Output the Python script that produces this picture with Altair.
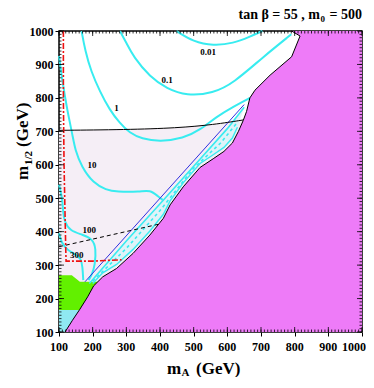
import altair as alt
import pandas as pd

# ---------------- data (GeV) ----------------
# excluded (charged LSP) boundary, bottom -> top
boundary_x = [118, 140, 162, 185, 203, 230, 271, 320, 370, 410, 430, 469, 519, 558, 590, 615, 633, 647, 657, 667, 682, 727, 791, 816, 791]
boundary_y = [100, 135, 168, 205, 238, 265, 290, 335, 390, 440, 480, 534, 592, 618, 640, 665, 700, 732, 759, 800, 823, 868, 923, 985, 1000]

# top edge of the shaded (lavender) region = black solid line
black_x = [100, 300, 450, 560, 647]
black_y = [703, 705, 710, 720, 734]

# green region
green_x = [100, 165, 215, 162, 138, 100]
green_y = [166, 166, 250, 250, 270, 270]

# cyan hatched region at lower left
hatch_x = [100, 130, 175, 100]
hatch_y = [100, 100, 166, 166]

# cyan band along the boundary
band_up_x = [190, 300, 415, 520, 600, 650]
band_up_y = [245, 372, 500, 618, 708, 772]
band_lo_x = [200, 230, 271, 320, 370, 410, 430, 469, 519, 558, 590, 615, 630]
band_lo_y = [245, 277, 302, 347, 402, 452, 492, 546, 604, 630, 652, 680, 712]
band_mid_x = [200, 300, 400, 500, 580, 630]
band_mid_y = [252, 350, 463, 590, 665, 727]

# contours (cyan)
c001_x = [449, 499, 558, 618, 667, 704]
c001_y = [1000, 968, 956, 963, 983, 1000]
c01_x = [281, 301, 321, 370, 420, 479, 558, 618, 707, 790]
c01_y = [1000, 963, 923, 863, 828, 806, 814, 844, 923, 990]
c1_x = [167, 178, 195, 222, 250, 280, 310, 345, 400, 469, 519, 568, 620, 667]
c1_y = [1000, 940, 880, 818, 765, 725, 695, 678, 669, 679, 704, 744, 775, 800]
c10_x = [100, 110, 125, 140, 148, 167, 202, 240, 271, 341, 370, 395, 408]
c10_y = [925, 850, 760, 690, 644, 594, 545, 525, 519, 519, 525, 505, 495]
c100_x = [100, 110, 112, 116, 133, 170, 200, 210, 207, 198, 188]
c100_y = [540, 500, 460, 430, 402, 391, 378, 350, 300, 272, 255]
c300_x = [100, 108, 125, 150, 165, 170, 172]
c300_y = [395, 365, 345, 332, 320, 295, 255]

contour_labels = ["0.01", "0.1", "1", "10", "100", "300"]
label_x = [543, 421, 271, 198, 190, 153]
label_y = [936, 853, 771, 598, 405, 330]

# other lines
blue_x = [177, 650]
blue_y = [250, 780]
dashed_x = [100, 395]
dashed_y = [355, 422]
red_x = [113, 113, 115, 118, 120, 121, 200, 286]
red_y = [1000, 800, 600, 450, 350, 312, 312, 316]

major_ticks = [100, 200, 300, 400, 500, 600, 700, 800, 900, 1000]
x_tick_labels = ["100", "200", "300", "400", "500", "600", "700", "800", "900", "1000"]
minor_ticks = list(range(100, 1001, 10))

# ---------------- styling ----------------
W, H = 303, 301
SERIF = "Liberation Serif"
CYAN = "#38ECF0"
MAGENTA = "#EE7BF8"
LAVENDER = "#F5EEF6"
GREEN = "#62F000"

dom = [100, 1000]
axis_x = alt.Axis(values=major_ticks, format="d", title=None, grid=False, labels=False,
                  tickColor="black", tickSize=4, tickWidth=1, domain=False)
axis_y = alt.Axis(values=major_ticks, format="d", title=None, grid=False, labelFont=SERIF, labelFontWeight="bold",
                  labelFontSize=12, labelColor="black", tickColor="black", tickSize=4, tickWidth=1,
                  domain=False, labelPadding=2, labelFlush=False, labelOverlap=False)


def X(f="x"):
    return alt.X(f"{f}:Q", scale=alt.Scale(domain=dom, nice=False, zero=False), axis=axis_x)


def Y(f="y"):
    return alt.Y(f"{f}:Q", scale=alt.Scale(domain=dom, nice=False, zero=False), axis=axis_y)


def pts(xs, ys):
    return pd.DataFrame({"x": xs, "y": ys, "o": list(range(len(xs)))})


def poly(xs, ys, color, opacity=1.0):
    return alt.Chart(pts(xs, ys)).mark_line(fill=color, fillOpacity=opacity, strokeOpacity=0).encode(
        x=X(), y=Y(), order="o:Q")


def line(xs, ys, color, width=1.0, dash=None, interp="linear"):
    kw = dict(color=color, strokeWidth=width, interpolate=interp)
    if dash:
        kw["strokeDash"] = dash
    return alt.Chart(pts(xs, ys)).mark_line(**kw).encode(x=X(), y=Y(), order="o:Q")


layers = []
# fills
lav_x = black_x + [647, 100]
lav_y = black_y + [100, 100]
layers.append(poly([100] + lav_x, [703] + lav_y, LAVENDER))
layers.append(poly(band_up_x + band_lo_x[::-1], band_up_y + band_lo_y[::-1], "#DDF3F8", 0.9))
layers.append(poly(hatch_x, hatch_y, "#8FE9F2"))
layers.append(poly(green_x, green_y, GREEN))
layers.append(poly(boundary_x + [1000, 1000], boundary_y + [1000, 100], MAGENTA))

# contours
for cx, cy in [(c001_x, c001_y), (c01_x, c01_y), (c1_x, c1_y), (c10_x, c10_y), (c100_x, c100_y), (c300_x, c300_y)]:
    layers.append(line(cx, cy, CYAN, 2, interp="basis"))
layers.append(line(band_up_x, band_up_y, CYAN, 1.6))
layers.append(line(band_lo_x, band_lo_y, CYAN, 1.4))
layers.append(line(band_mid_x, band_mid_y, CYAN, 1.6, dash=[3, 3]))

# other lines
layers.append(line(blue_x, blue_y, "#3030E0", 1))
layers.append(line(black_x, black_y, "black", 1, interp="basis"))
layers.append(line(dashed_x, dashed_y, "black", 1, dash=[4, 3]))
layers.append(line(red_x, red_y, "#EE1111", 1.6, dash=[6, 2, 2, 2]))
layers.append(line(boundary_x, boundary_y, "black", 1))

# contour labels
lab_df = pd.DataFrame({"x": label_x, "y": label_y, "t": contour_labels})
layers.append(alt.Chart(lab_df).mark_text(font=SERIF, fontWeight="bold", fontSize=9, color="black").encode(
    x=X(), y=Y(), text="t:N"))

# x tick labels (last one kept inside the page)
xl = pd.DataFrame({"x": major_ticks[:-1], "t": x_tick_labels[:-1]})
layers.append(alt.Chart(xl).mark_text(font=SERIF, fontWeight="bold", fontSize=12, color="black",
                                      baseline="top", align="center").encode(
    x=X(), y=alt.value(H + 10), text="t:N"))
xl_last = pd.DataFrame({"x": major_ticks[-1:], "t": x_tick_labels[-1:]})
layers.append(alt.Chart(xl_last).mark_text(font=SERIF, fontWeight="bold", fontSize=12, color="black",
                                           baseline="top", align="right", dx=4).encode(
    x=X(), y=alt.value(H + 10), text="t:N"))

# inward ticks on all sides
mt = pd.DataFrame({"v": minor_ticks})
Mt = pd.DataFrame({"v": major_ticks})
for df, ln in [(mt, 2.5), (Mt, 5)]:
    layers.append(alt.Chart(df).mark_rule(color="black", strokeWidth=0.8).encode(
        x=X("v"), y=alt.value(0), y2=alt.value(ln)))
    layers.append(alt.Chart(df).mark_rule(color="black", strokeWidth=0.8).encode(
        x=X("v"), y=alt.value(H), y2=alt.value(H - ln)))
    layers.append(alt.Chart(df).mark_rule(color="black", strokeWidth=0.8).encode(
        y=Y("v"), x=alt.value(0), x2=alt.value(ln)))
    layers.append(alt.Chart(df).mark_rule(color="black", strokeWidth=0.8).encode(
        y=Y("v"), x=alt.value(W), x2=alt.value(W - ln)))


def txt(s, px, py, size, align="left", angle=0, baseline="alphabetic"):
    kw = dict(font=SERIF, fontWeight="bold", fontSize=size, color="black", align=align, baseline=baseline)
    if angle:
        kw["angle"] = angle
    return alt.Chart(pd.DataFrame({"t": [s]})).mark_text(**kw).encode(
        text="t:N", x=alt.value(px), y=alt.value(py))


# title: tan beta = 55 , m0 = 500
layers.append(txt("= 500", W, -12, 14, align="right"))
layers.append(txt("0", W - 37, -9, 9, align="right"))
layers.append(txt("tan \u03b2 = 55 , m", W - 42, -12, 14, align="right"))

# x title: m_A (GeV)
layers.append(txt("m", 108, 343, 17))
layers.append(txt("A", 122.5, 345, 11))
layers.append(txt("(GeV)", 137, 343, 17))

# y title: m_1/2 (GeV)
layers.append(txt("m", -31, 149, 17, angle=270))
layers.append(txt("1/2", -27, 134, 11, angle=270))
layers.append(txt("(GeV)", -31, 116, 17, angle=270))

chart = alt.layer(*layers).properties(
    width=W, height=H,
    padding={"left": 51, "top": 23, "right": 4, "bottom": 45},
    autosize=alt.AutoSizeParams(type="none"),
).configure_view(stroke="black", strokeWidth=1.5).configure_axis(
    labelFont=SERIF, labelFontWeight="bold", labelColor="black")

chart.save("out.html", embed_options={"renderer": "svg", "actions": False})
